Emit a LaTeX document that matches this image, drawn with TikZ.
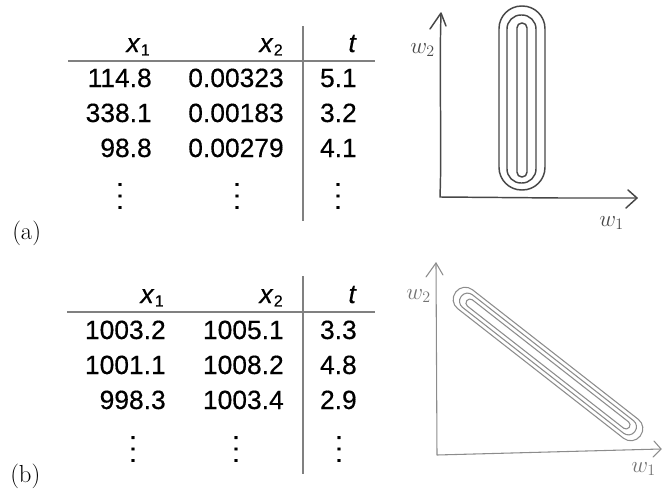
\documentclass[tikz,border=0pt]{standalone}
\usepackage{fontspec}
\newfontfamily\tabfont[FakeBold=0.4]{Liberation Sans}
\newcommand\xsb[1]{\textit{x}\kern0.3pt\raisebox{-2.6pt}{\fontsize{12}{12}\selectfont #1}}
\newcommand\vdotsbig{\vbox{\baselineskip=8.6pt\lineskiplimit=-10pt\hbox{.}\hbox{.}\hbox{.}}}
\begin{document}
\begin{tikzpicture}[x=0.75pt,y=-0.75pt,
  cell/.style={font=\tabfont\fontsize{19.8}{24}\selectfont, inner sep=0pt, anchor=base east},
  vd/.style={font=\tabfont\fontsize{19.8}{24}\selectfont, inner sep=0pt, anchor=center},
  rule/.style={draw=black!50, line width=1.5pt},
  lab/.style={font=\fontsize{18.5}{22}\selectfont, inner sep=0pt, anchor=base west},
  pencilA/.style={draw=black!72, line width=1.1pt, line cap=round, line join=round},
  pencilB/.style={draw=black!45, line width=0.8pt, line cap=round, line join=round},
  hand/.style={font=\fontsize{17}{18}\selectfont, inner sep=0pt, anchor=base west},
]
\useasboundingbox (0,0) rectangle (662,493);

% ---------- table (a)
\node[cell] (ah1) at (150,52) {\xsb{1}};
\node[cell] (ah2) at (283,52) {\xsb{2}};
\node[cell] (ah3) at (357,52) {\textit{t}};
\node[cell] (a11) at (152,87) {114.8};
\node[cell] (a12) at (284,87) {0.00323};
\node[cell] (a13) at (357,87) {5.1};
\node[cell] (a21) at (152,122) {338.1};
\node[cell] (a22) at (284,122) {0.00183};
\node[cell] (a23) at (357,122) {3.2};
\node[cell] (a31) at (152,157) {98.8};
\node[cell] (a32) at (284,157) {0.00279};
\node[cell] (a33) at (357,157) {4.1};
\node[vd] (ad1) at (120,196) {\vdotsbig};
\node[vd] (ad2) at (237,196) {\vdotsbig};
\node[vd] (ad3) at (338,196) {\vdotsbig};
\draw[rule] (68,61) -- (375,61);
\draw[rule] (303,26) -- (303,221);
\node[lab] (la) at (12,239) {(a)};

% ---------- table (b)
\node[cell] (bh1) at (164,303) {\xsb{1}};
\node[cell] (bh2) at (283,303) {\xsb{2}};
\node[cell] (bh3) at (357,303) {\textit{t}};
\node[cell] (b11) at (166,339) {1003.2};
\node[cell] (b12) at (284,339) {1005.1};
\node[cell] (b13) at (357,339) {3.3};
\node[cell] (b21) at (166,374) {1001.1};
\node[cell] (b22) at (284,374) {1008.2};
\node[cell] (b23) at (357,374) {4.8};
\node[cell] (b31) at (166,409) {998.3};
\node[cell] (b32) at (284,409) {1003.4};
\node[cell] (b33) at (357,409) {2.9};
\node[vd] (bd1) at (133,449) {\vdotsbig};
\node[vd] (bd2) at (236,449) {\vdotsbig};
\node[vd] (bd3) at (339,449) {\vdotsbig};
\draw[rule] (67,312) -- (375,312);
\draw[rule] (303,276) -- (303,474);
\node[lab] (lb) at (10,482) {(b)};

% ---------- sketch (a)
\draw[pencilA] (441,14) .. controls (439,80) and (442,140) .. (440,197) -- (560,198) -- (637,198);
\draw[pencilA] (430,29) -- (441,13) -- (446,26);
\draw[pencilA] (628,190) -- (637,198) -- (626,208);
\node[hand, text=black!72] (aw2) at (410,53) {$w_2$};
\node[hand, text=black!72] (aw1) at (599,226) {$w_1$};
\draw[pencilA, rounded corners=17pt] (499,6) rectangle (545,190);
\draw[pencilA, rounded corners=10.5pt] (507,15) rectangle (536,183);
\draw[pencilA, rounded corners=3.6pt] (517,23) rectangle (527,177);

% ---------- sketch (b)
\draw[pencilB] (436,263) -- (437,455) -- (661,449);
\draw[pencilB] (426,277) -- (436,263) -- (443,275);
\draw[pencilB] (654,441) -- (661,449) -- (653,457);
\node[hand, text=black!55] (bw2) at (406,299) {$w_2$};
\node[hand, text=black!55] (bw1) at (631,472) {$w_1$};
\begin{scope}[rotate around={-38:(548,364)}]
  \draw[pencilB, rounded corners=8.8pt] (431,352) rectangle (665,376);
  \draw[pencilB, rounded corners=5.8pt] (438,356) rectangle (658,372);
  \draw[pencilB, rounded corners=2.9pt] (445,360) rectangle (651,368);
\end{scope}
\end{tikzpicture}
\end{document}
